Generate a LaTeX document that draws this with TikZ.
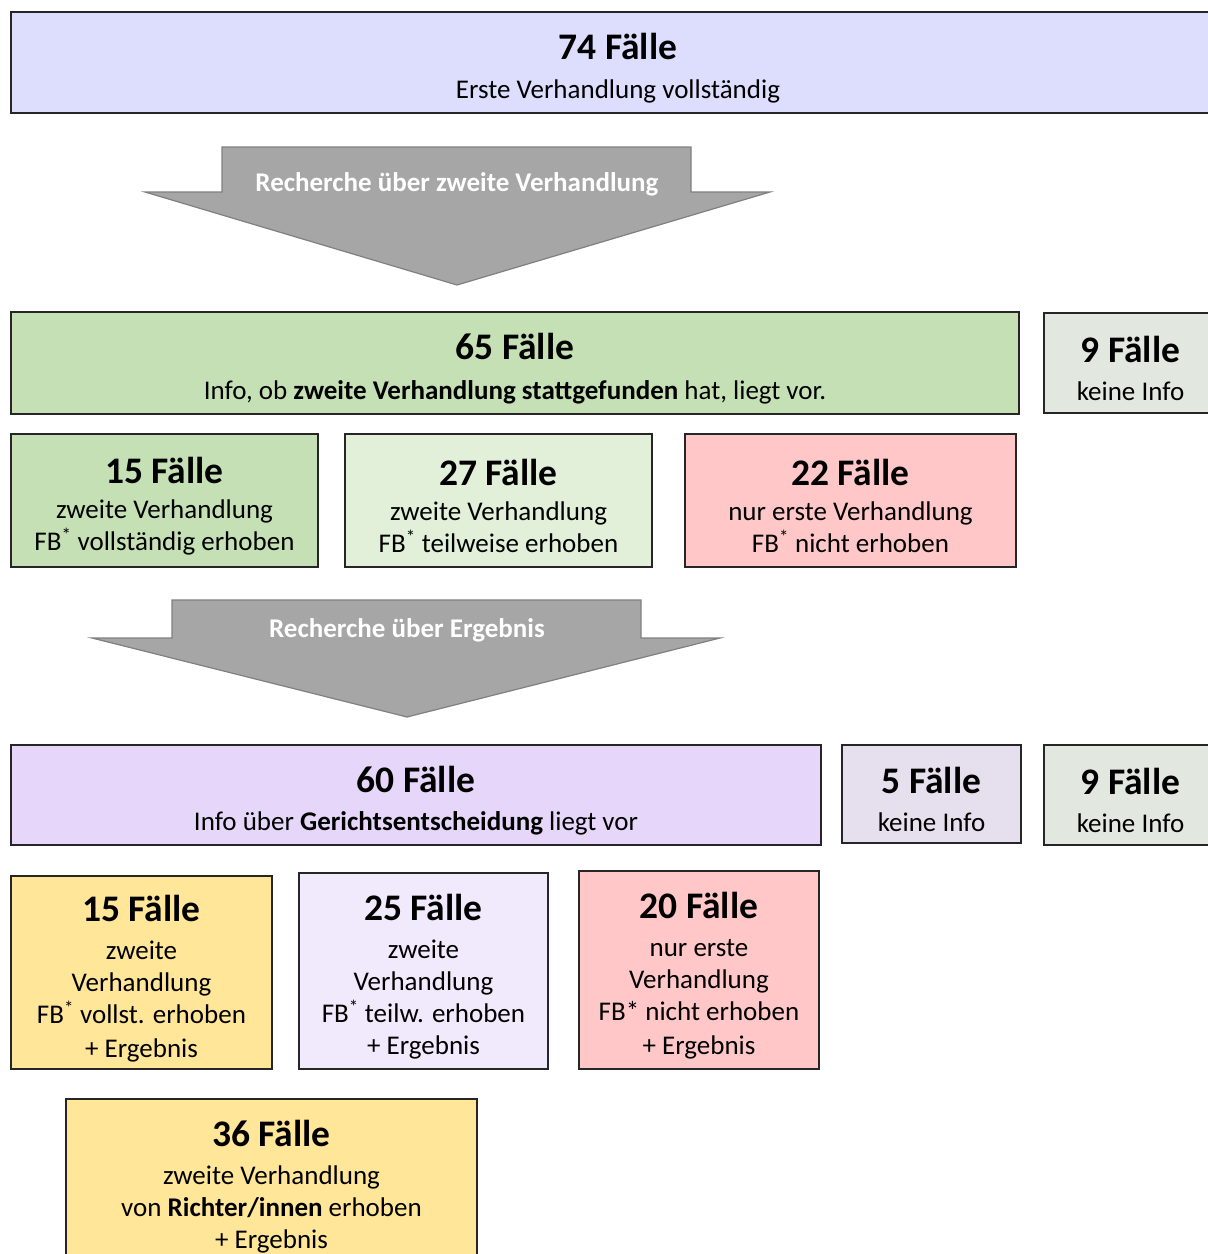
\documentclass[tikz,border=0pt]{standalone}
\usepackage{fontspec}
\setmainfont{Carlito}
\usetikzlibrary{positioning}
\definecolor{lila}{RGB}{221,221,253}
\definecolor{gruen}{RGB}{197,224,180}
\definecolor{hellgruen}{RGB}{226,240,217}
\definecolor{grau}{RGB}{226,232,224}
\definecolor{rosa}{RGB}{255,199,199}
\definecolor{violett}{RGB}{230,214,250}
\definecolor{hellviolett}{RGB}{241,233,252}
\definecolor{graulila}{RGB}{230,224,238}
\definecolor{gelb}{RGB}{255,230,153}
\definecolor{pfeil}{RGB}{166,166,166}
\newcommand\faelle[1]{{\fontsize{37.5}{40}\selectfont\bfseries\rule{0pt}{38pt}#1}}
\tikzset{
  fall/.style={draw=black!85, line width=1.6pt, inner sep=0pt, align=center,
    font=\fontsize{27}{32}\selectfont},
  recherche/.style={fill=pfeil, draw=black!50, line width=1.2pt},
  rtext/.style={text=white, font=\fontsize{27}{30}\selectfont\bfseries}
}

\begin{document}
\begin{tikzpicture}[x=1pt, y=-1pt]
			%%%%% START %%%%%
			\useasboundingbox (0, 0) rectangle (1208, 1254);
			\clip (0, 0) rectangle (1208, 1254);
			
			\node[fall, fill=lila, minimum width=1214, minimum height=101] (f74) at (618, 62.5)
			{\faelle{74 Fälle}\\[7pt] Erste Verhandlung vollständig};
			
			\draw[recherche] (222, 147) -- (691, 147) -- (691, 192) -- (770, 192) -- (457, 285)
			  -- (145, 192) -- (222, 192) -- cycle;
			\node[rtext] (r1) at (457, 184) {Recherche über zweite Verhandlung};
			
			\node[fall, fill=gruen, minimum width=1008, minimum height=102] (f65) at (515, 363)
			{\faelle{65 Fälle}\\[8pt] Info, ob \textbf{zweite Verhandlung stattgefunden} hat, liegt vor.};
			\node[fall, fill=grau, minimum width=173, minimum height=100] (f9a) at (1130.5, 363)
			{\faelle{9 Fälle}\\[6pt] keine Info};
			
			\node[fall, fill=gruen, minimum width=307, minimum height=133] (f15a) at (164.5, 500.5)
			{\faelle{15 Fälle}\\[3pt] zweite Verhandlung\\ FB\textsuperscript{*} vollständig erhoben};
			\node[fall, fill=hellgruen, minimum width=307, minimum height=133] (f27) at (498.5, 500.5)
			{\faelle{27 Fälle}\\[3pt] zweite Verhandlung\\ FB\textsuperscript{*} teilweise erhoben};
			\node[fall, fill=rosa, minimum width=331, minimum height=133] (f22) at (850.5, 500.5)
			{\faelle{22 Fälle}\\[3pt] nur erste Verhandlung\\ FB\textsuperscript{*} nicht erhoben};
			
			\draw[recherche] (172, 600) -- (641, 600) -- (641, 638) -- (720, 638) -- (407, 717)
			  -- (92, 638) -- (172, 638) -- cycle;
			\node[rtext] (r2) at (407, 630) {Recherche über Ergebnis};
			
			\node[fall, fill=violett, minimum width=810, minimum height=100] (f60) at (416, 795)
			{\faelle{60 Fälle}\\[6pt] Info über \textbf{Gerichtsentscheidung} liegt vor};
			\node[fall, fill=graulila, minimum width=179, minimum height=98] (f5) at (931.5, 794)
			{\faelle{5 Fälle}\\[6pt] keine Info};
			\node[fall, fill=grau, minimum width=173, minimum height=100] (f9b) at (1130.5, 795)
			{\faelle{9 Fälle}\\[6pt] keine Info};
			
			\node[fall, fill=gelb, minimum width=261, minimum height=193] (f15b) at (141.5, 972.5)
			{\faelle{15 Fälle}\\[6pt] zweite\\ Verhandlung\\ FB\textsuperscript{*} vollst. erhoben\\[2pt] + Ergebnis};
			\node[fall, fill=hellviolett, minimum width=249, minimum height=196] (f25) at (423.5, 971)
			{\faelle{25 Fälle}\\[6pt] zweite\\ Verhandlung\\ FB\textsuperscript{*} teilw. erhoben\\ + Ergebnis};
			\node[fall, fill=rosa, minimum width=240, minimum height=198] (f20) at (699, 970)
			{\faelle{20 Fälle}\\[6pt] nur erste\\ Verhandlung\\ FB* nicht erhoben\\[2pt] + Ergebnis};
			
			\node[fall, fill=gelb, minimum width=411, minimum height=163] (f36) at (271.5, 1180.5)
			{\faelle{36 Fälle}\\[6pt] zweite Verhandlung\\ von \textbf{Richter/innen} erhoben\\ + Ergebnis};
			
			%%%%% END %%%%%
		\end{tikzpicture}
\end{document}
